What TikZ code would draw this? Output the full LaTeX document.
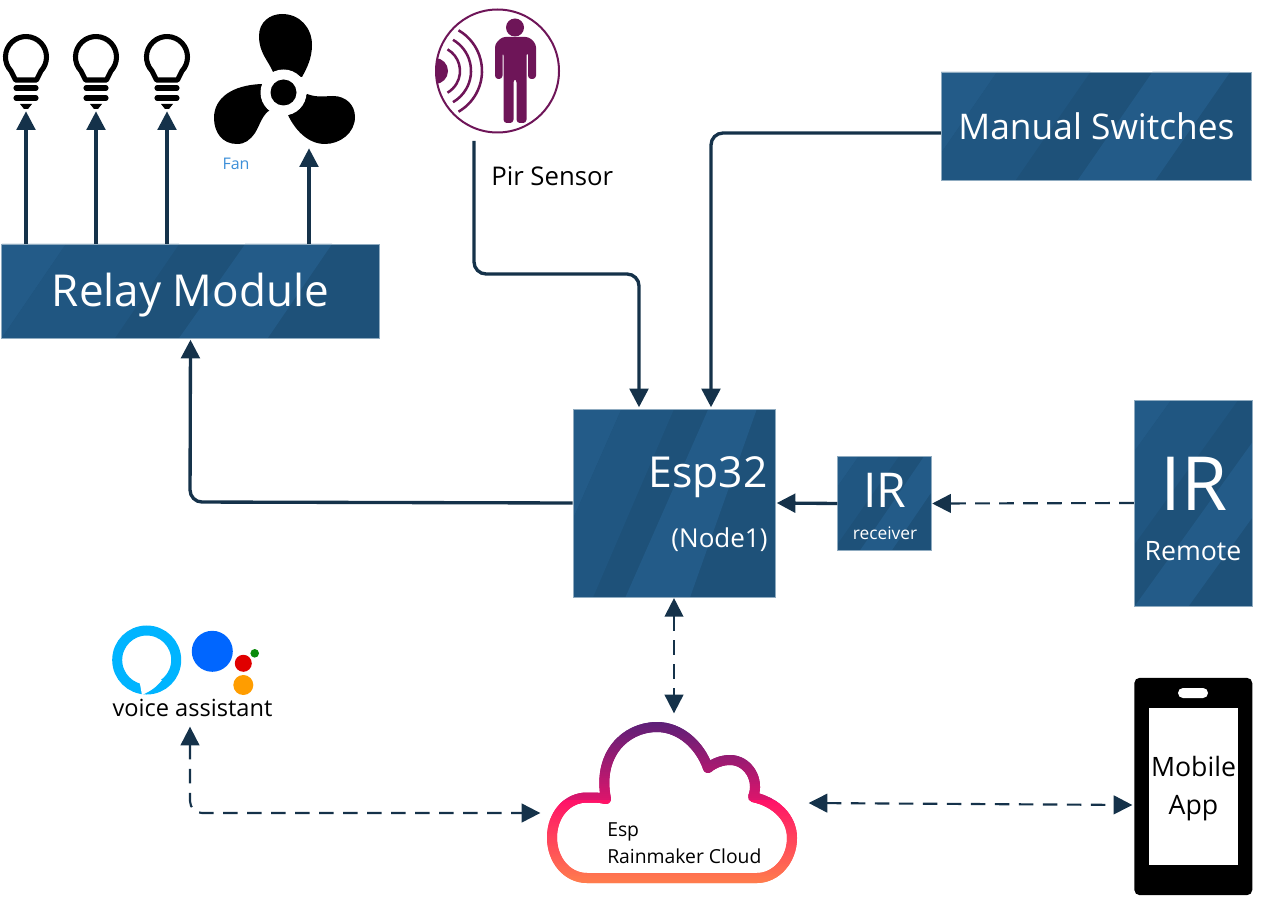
\documentclass[tikz,border=0pt]{standalone}
\usepackage{fontspec}
\setmainfont{Open Sans}
\usetikzlibrary{arrows.meta, calc}
\definecolor{boxdark}{HTML}{1E5179}
\definecolor{boxlight}{HTML}{235B88}
\definecolor{boxedge}{HTML}{8FABC0}
\definecolor{wirecol}{HTML}{15324A}
\definecolor{pircol}{HTML}{6E1558}
\definecolor{alexacol}{HTML}{00B4FF}
\definecolor{cloudtop}{HTML}{5A2078}
\definecolor{cloudmid}{HTML}{FF1268}
\definecolor{cloudlow}{HTML}{FF7F4C}
\tikzset{
x=0.75pt, y=-0.75pt,
>={Triangle[length=14pt,width=14pt]},
wire/.style={draw=wirecol, line width=2.5pt, rounded corners=9pt, shorten >=1pt},
dashwire/.style={wire, line width=1.6pt, dash pattern=on 11pt off 7pt, shorten >=0.5pt, shorten <=0.5pt},
txt/.style={font=\fontsize{#1}{#1}\selectfont, inner sep=0pt},
blockbox/.style={draw=boxedge, line width=0.6pt, fill=boxdark, text=white, inner sep=0pt, path picture={
    \foreach \a/\b/\c/\d/\e in {#1} {
      \fill[boxlight!\e!boxdark]
      ($(path picture bounding box.south west)!\a!(path picture bounding box.south east)$) --
      ($(path picture bounding box.south west)!\b!(path picture bounding box.south east)$) --
      ($(path picture bounding box.north west)!\c!(path picture bounding box.north east)$) --
      ($(path picture bounding box.north west)!\d!(path picture bounding box.north east)$) -- cycle;
    }
}},
bulb/.pic={
    \draw[line width=3.8pt, line join=round] (-10.5,23) -- (-15,14) arc[start angle=137, end angle=403, radius=20.5] -- (10.5,23) -- cycle;
    \draw[line width=3.8pt, line cap=round] (-10,31) -- (10,31) (-10,41) -- (10,41);
    \fill (-6,47) -- (6,47) -- (2,52) -- (-2,52) -- cycle;
},
}
\newcommand{\cloudpath}{(606,799) .. controls (600,797.5) and (595,797.5) .. (587,797.5)
    .. controls (567,797.5) and (552,815) .. (552,837.5)
    .. controls (552,860) and (567,878) .. (587,878) -- (757,878)
    .. controls (776,878) and (792,860) .. (792,838)
    .. controls (792,818) and (776,802) .. (753,797)
    .. controls (760,780) and (748,760) .. (730,760)
    .. controls (722,760) and (714,763) .. (708,768)
    .. controls (700,745) and (680,727) .. (657,727)
    .. controls (625,727) and (597,755) .. (606,799)}

\begin{document}
\begin{tikzpicture}
    \useasboundingbox (0,0) rectangle (1266,898);

    % blocks
    \node[blockbox={0/0/.17/0/100, 0/.3/.47/.17/50, .47/.705/.875/.645/100}, minimum width=283pt, minimum height=70.5pt] (relay) at (190.5,291) {};
    \node[blockbox={-.17/-.17/.24/-.17/100, -.17/.1/.5/.24/50, .26/.58/.91/.67/100}, minimum width=151.5pt, minimum height=141pt] (esp) at (674,503) {};
    \node[blockbox={-.48/-.48/.22/-.48/100, -.48/-.05/.65/.22/50, .24/.58/1.26/.92/100}, minimum width=70pt, minimum height=70pt] (irrx) at (884.5,503.5) {};
    \node[blockbox={-.95/-.95/.31/-.95/100, -.95/-.38/.88/.31/50, 0/.46/1.72/1.26/100}, minimum width=88pt, minimum height=154.5pt] (irtx) at (1193.5,503) {};
    \node[blockbox={-.06/-.06/.18/-.06/100, -.06/.24/.48/.18/50, .44/.69/.93/.68/100}, minimum width=233pt, minimum height=81pt, txt=26.5] (manual) at (1096.5,126) {Manual Switches};

    \node[txt=33, text=white, text depth=0pt] (relaylabel) at (190.5,290) {Relay Module};
    \node[txt=32, text=white] (esplabel) at (708,477) {Esp32};
    \node[txt=19.5, text=white] (nodelabel) at (719.5,540) {(Node1)};
    \node[txt=36, text=white] (irrxtop) at (885,490) {IR};
    \node[txt=13, text=white] (irrxlow) at (885,533) {receiver};
    \node[txt=56, text=white] (irtxtop) at (1194,484) {IR};
    \node[txt=20, text=white] (irtxlow) at (1193,551) {Remote};

    % bulbs and fan
    \foreach \i/\px in {A/26, B/96, C/167} {
        \path (\px,57) pic {bulb};
        \coordinate (bulb\i) at (\px,110);
    }
    \fill (273,72) .. controls (268,60) and (259,53) .. (259,36) .. controls (259,22) and (270,14) .. (282,14)
        .. controls (300,14) and (312,28) .. (312,45) .. controls (312,58) and (307,68) .. (302,77) -- cycle;
    \fill (270,110) .. controls (262,115) and (260,125) .. (255,133) .. controls (250,140) and (245,144) .. (237,144)
        .. controls (222,144) and (214,132) .. (214,118) .. controls (214,98) and (232,85) .. (262,84) -- cycle;
    \fill (307,94) .. controls (318,98) and (325,96) .. (333,96) .. controls (346,96) and (355,105) .. (355,117)
        .. controls (355,133) and (340,144) .. (325,144) .. controls (308,144) and (295,130) .. (288,115) -- cycle;
    \fill[white] (283.5,92.5) circle[radius=23];
    \fill (283.5,92.5) circle[radius=13];
    \coordinate (fan) at (309,147);
    \node[txt=12, text={rgb,255:red,61;green,143;blue,216}] (fanlabel) at (236,164) {Fan};

    % pir sensor
    \draw[pircol, line width=1.5pt] (497.5,71) circle[radius=61.5];
    \begin{scope}
        \clip (497.5,71) circle[radius=61.5];
        \fill[pircol] (435,71) circle[radius=13];
    \end{scope}
    \foreach \r in {25, 36, 47}
        \draw[pircol, line width=1.9pt] (435,71) ++(-60:\r) arc[start angle=-60, end angle=60, radius=\r];
    \fill[pircol] (515,27.5) circle[radius=9];
    \fill[pircol, rounded corners=2.5pt] (495,79) -- (495,44) -- (502,37) -- (529,37) -- (536,44) -- (536,79) -- (528,79) -- (528,52) -- (526.5,52)
        -- (526.5,123) -- (516.5,123) -- (516.5,79) -- (513.5,79) -- (513.5,123) -- (503.5,123) -- (503.5,52) -- (502.5,52) -- (502.5,79) -- cycle;
    \coordinate (pir) at (474,141);
    \node[txt=19.3, anchor=west] (pirlabel) at (491,176) {Pir Sensor};

    % voice assistants
    \draw[line width=7.5pt, alexacol] (146.7,660) circle[radius=29.5];
    \fill[white] (139.5,682) .. controls (141,688) and (141,691) .. (142,695) .. controls (148,692) and (155,689) .. (162,680) -- cycle;
    \fill[color={rgb,255:red,0;green,102;blue,255}] (212.3,651.3) circle[radius=20.5];
    \fill[color={rgb,255:red,224;green,0;blue,0}] (243.3,663.3) circle[radius=8.5];
    \fill[color={rgb,255:red,11;green,138;blue,11}] (254.7,653.3) circle[radius=4.3];
    \fill[color={rgb,255:red,255;green,157;blue,0}] (243.3,685) circle[radius=10];
    \node[txt=17.7] (voice) at (192.5,708) {voice assistant};
    \coordinate (voicein) at (190,726);

    % cloud, cut in thin slices for the colour run
    \foreach \s in {0,2,...,80} {
        \begin{scope}
            \clip (540,720+\s) rectangle (800,723+\s);
            \draw[cloudmid!\s!cloudtop, line width=7.5pt, line cap=round, line join=round] \cloudpath;
        \end{scope}
    }
    \foreach \s in {0,2,...,84} {
        \pgfmathsetmacro{\q}{\s*100/84}
        \begin{scope}
            \clip (540,800+\s) rectangle (800,803+\s);
            \draw[cloudlow!\q!cloudmid, line width=7.5pt, line cap=round, line join=round] \cloudpath;
        \end{scope}
    }
    \node[inner sep=0pt, anchor=west, align=left, font=\fontsize{14.5}{20}\selectfont] (cloud) at (607,843) {Esp\\Rainmaker Cloud};
    \coordinate (cloudleft) at (541,813);
    \coordinate (cloudright) at (808,803);
    \coordinate (cloudtopin) at (674,714);

    % phone
    \node[fill=black, rounded corners=4pt, minimum width=88.5pt, minimum height=163pt, inner sep=0pt] (phone) at (1193.3,786.5) {};
    \node[fill=white, minimum width=66.3pt, minimum height=118pt, inner sep=0pt] (screen) at (1193.5,786.5) {};
    \node[inner sep=0pt, align=center, font=\fontsize{20}{28}\selectfont] (app) at (1193.5,788.5) {Mobile\\App};
    \node[fill=white, rounded corners=3.7pt, minimum width=22.5pt, minimum height=7.5pt, inner sep=0pt] (speaker) at (1193,693) {};
    \coordinate (phonein) at (1133,805);

    % connectors
    \foreach \i in {A, B, C}
        \draw[wire, ->] (relay.north -| bulb\i) -- (bulb\i);
    \draw[wire, ->] (relay.north -| fan) -- (fan);
    \draw[wire, ->] (pir) -- (474,274) -- (639,274) -- (esp.north -| 639,0);
    \draw[wire, ->] (manual.west |- 0,133) -- (711,133) -- (esp.north -| 711,0);
    \draw[wire, ->] (esp.west) -- (190,502) -- (relay.south);
    \draw[wire, ->] (irrx.west) -- (esp.east);
    \draw[dashwire, ->] (irtx.west) -- (irrx.east);
    \draw[dashwire, <->] (esp.south) -- (cloudtopin);
    \draw[dashwire, <->] (voicein) -- (190,813) -- (cloudleft);
    \draw[dashwire, <->] (cloudright) -- (phonein);
\end{tikzpicture}
\end{document}
